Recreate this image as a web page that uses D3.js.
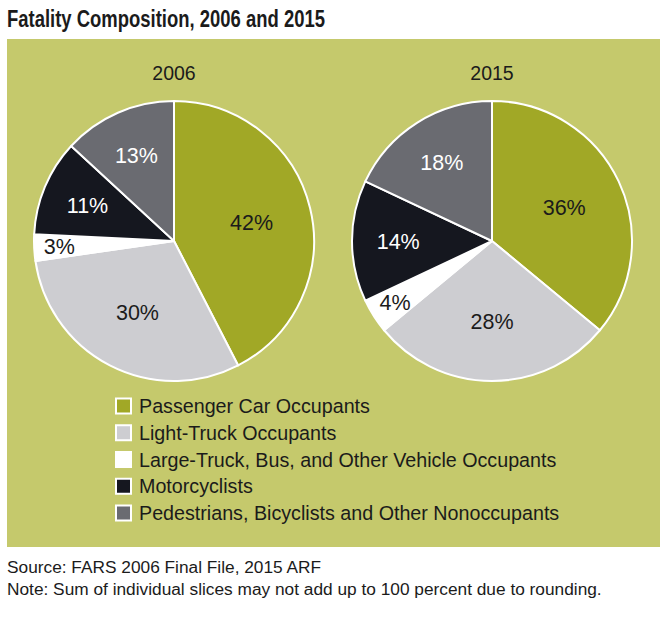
<!DOCTYPE html>
<html>
<head>
<meta charset="utf-8">
<script src="https://cdn.jsdelivr.net/npm/d3@7/dist/d3.min.js"></script>
<style>
  html, body { margin: 0; padding: 0; background: #ffffff; }
  svg { display: block; }
</style>
</head>
<body>
<svg id="chart" width="666" height="625"></svg>
<script>
// ---- data ----
const title = "Fatality Composition, 2006 and 2015";
const years = ["2006", "2015"];
const categories = [
  "Passenger Car Occupants",
  "Light-Truck Occupants",
  "Large-Truck, Bus, and Other Vehicle Occupants",
  "Motorcyclists",
  "Pedestrians, Bicyclists and Other Nonoccupants"
];
const values2006 = [42, 30, 3, 11, 13];
const values2015 = [36, 28, 4, 14, 18];
const footnotes = [
  "Source: FARS 2006 Final File, 2015 ARF",
  "Note: Sum of individual slices may not add up to 100 percent due to rounding."
];

// ---- styles ----
const sliceColors = ["#a1a826", "#cdcdd1", "#ffffff", "#15171f", "#6a6b71"];
const labelColors = ["#1b1b1b", "#1b1b1b", "#1b1b1b", "#ffffff", "#ffffff"];
const panelColor = "#c5c96c";
const textColor = "#1b1b1b";
const bodyFont = "'Liberation Sans', Arial, sans-serif";

const svg = d3.select("#chart");

// title
svg.append("text")
  .attr("x", 7).attr("y", 27)
  .attr("font-family", "'Liberation Sans Narrow', 'Liberation Sans', Arial, sans-serif")
  .attr("font-weight", "bold")
  .attr("font-size", 23.5)
  .attr("textLength", 318)
  .attr("lengthAdjust", "spacingAndGlyphs")
  .attr("fill", textColor)
  .text(title);

// panel
svg.append("rect")
  .attr("x", 7).attr("y", 39)
  .attr("width", 653).attr("height", 508)
  .attr("fill", panelColor);

// pies
const R = 140;
const xPos = d3.scalePoint().domain(years).range([174, 492]);
const cy = 241;
const pie = d3.pie().sort(null).value(d => d);
const arc = d3.arc().innerRadius(0).outerRadius(R);
const seriesByYear = { "2006": values2006, "2015": values2015 };

function labelRadius(v) {
  if (v < 5) return R * 0.82;
  if (v < 20) return R * 0.67;
  return R * 0.57;
}

years.forEach(yr => {
  const g = svg.append("g").attr("transform", `translate(${xPos(yr)},${cy})`);
  const arcs = pie(seriesByYear[yr]);
  g.selectAll("path.slice")
    .data(arcs)
    .join("path")
    .attr("class", "slice")
    .attr("d", arc)
    .attr("fill", (d, i) => sliceColors[i])
    .attr("stroke", "#ffffff")
    .attr("stroke-width", 2)
    .attr("stroke-linejoin", "round");

  g.selectAll("text.lbl")
    .data(arcs)
    .join("text")
    .attr("class", "lbl")
    .attr("transform", d => {
      const r = labelRadius(d.data);
      const c = d3.arc().innerRadius(r).outerRadius(r).centroid(d);
      return `translate(${c[0]},${c[1]})`;
    })
    .attr("text-anchor", "middle")
    .attr("dy", "0.36em")
    .attr("font-family", bodyFont)
    .attr("font-size", 21.5)
    .attr("fill", (d, i) => labelColors[i])
    .text(d => d.data + "%");

  svg.append("text")
    .attr("x", xPos(yr)).attr("y", 80)
    .attr("text-anchor", "middle")
    .attr("font-family", bodyFont)
    .attr("font-size", 19.5)
    .attr("fill", textColor)
    .text(yr);
});

// legend
const legendY = d3.scalePoint().domain(categories).range([406, 513]);
const lg = svg.append("g");
const items = lg.selectAll("g").data(categories).join("g")
  .attr("transform", d => `translate(115,${legendY(d)})`);
items.append("rect")
  .attr("x", 1).attr("y", -7.5)
  .attr("width", 15).attr("height", 15)
  .attr("fill", (d, i) => sliceColors[i])
  .attr("stroke", "#ffffff")
  .attr("stroke-width", 2);
items.append("text")
  .attr("x", 24).attr("y", 7)
  .attr("font-family", bodyFont)
  .attr("font-size", 19.7)
  .attr("fill", textColor)
  .text(d => d);

// footnotes
svg.selectAll("text.foot").data(footnotes).join("text")
  .attr("class", "foot")
  .attr("x", 7)
  .attr("y", (d, i) => 573 + i * 21.5)
  .attr("font-family", bodyFont)
  .attr("font-size", 17.3)
  .attr("fill", textColor)
  .text(d => d);
</script>
</body>
</html>
